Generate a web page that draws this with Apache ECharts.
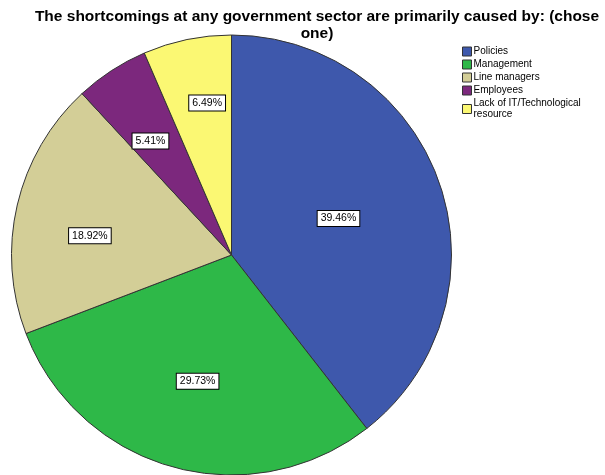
<!DOCTYPE html>
<html>
<head>
<meta charset="utf-8">
<script src="https://cdn.jsdelivr.net/npm/echarts@6/dist/echarts.min.js"></script>
<style>
  html, body { margin: 0; padding: 0; background: #fff; }
  #main { width: 605px; height: 475px; }
</style>
</head>
<body>
<div id="main"></div>
<script>
  // answer categories and counts (n = 185)
  const categories = ['Policies', 'Management', 'Line managers', 'Employees', 'Lack of IT/Technological\nresource'];
  const counts = [73, 55, 35, 10, 12];
  const colors = ['#3E58AC', '#2EB848', '#D3CE97', '#7C287D', '#FBF873'];
  // small hand nudges so the label boxes land where SPSS put them
  const labelNudge = [[-2, 1], [1, 1], [-3, 13], [1, 12], [6, -5]];

  const total = counts.reduce((a, b) => a + b, 0);
  const cx = 231.5, cy = 255, R = 220;
  const pieData = categories.map((name, i) => ({
    name: name,
    value: counts[i],
    itemStyle: { color: colors[i] }
  }));

  // labels sit roughly on each slice's centroid
  function centroid(i) {
    let before = 0;
    for (let k = 0; k < i; k++) before += counts[k];
    const half = counts[i] / total * Math.PI;          // half sweep (rad)
    const mid = Math.PI / 2 - (before / total) * 2 * Math.PI - half;
    const d = 2 * R * Math.sin(half) / (3 * half) * 1.03;
    return {
      x: cx + d * Math.cos(mid) + labelNudge[i][0],
      y: cy - d * Math.sin(mid) + labelNudge[i][1]
    };
  }

  const chart = echarts.init(document.getElementById('main'));
  chart.setOption({
    animation: false,
    title: {
      text: 'The shortcomings at any government sector are primarily caused by: (chose\none)',
      left: 312,
      textAlign: 'center',
      top: 3,
      textStyle: {
        fontFamily: 'Liberation Sans',
        fontSize: 15.5,
        fontWeight: 'bold',
        color: '#000',
        lineHeight: 17
      }
    },
    legend: {
      orient: 'vertical',
      left: 457,
      top: 41,
      itemWidth: 9,
      itemHeight: 9,
      itemGap: 2,
      icon: 'rect',
      itemStyle: { borderColor: '#333', borderWidth: 1 },
      textStyle: {
        fontFamily: 'Liberation Sans',
        fontSize: 10,
        lineHeight: 11,
        color: '#000',
        padding: [0, 0, 0, -3]
      },
      data: categories
    },
    series: [{
      type: 'pie',
      center: [cx, cy],
      radius: R,
      startAngle: 90,
      clockwise: true,
      silent: true,
      itemStyle: { borderColor: '#333', borderWidth: 1 },
      label: {
        position: 'inside',
        formatter: p => (p.value / total * 100).toFixed(2) + '%',
        fontFamily: 'Liberation Sans',
        fontSize: 10.5,
        color: '#000',
        backgroundColor: '#fff',
        borderColor: '#000',
        borderWidth: 1,
        padding: [2, 3, 2, 3]
      },
      labelLayout: p => centroid(p.dataIndex),
      labelLine: { show: false },
      data: pieData
    }]
  });
</script>
</body>
</html>
